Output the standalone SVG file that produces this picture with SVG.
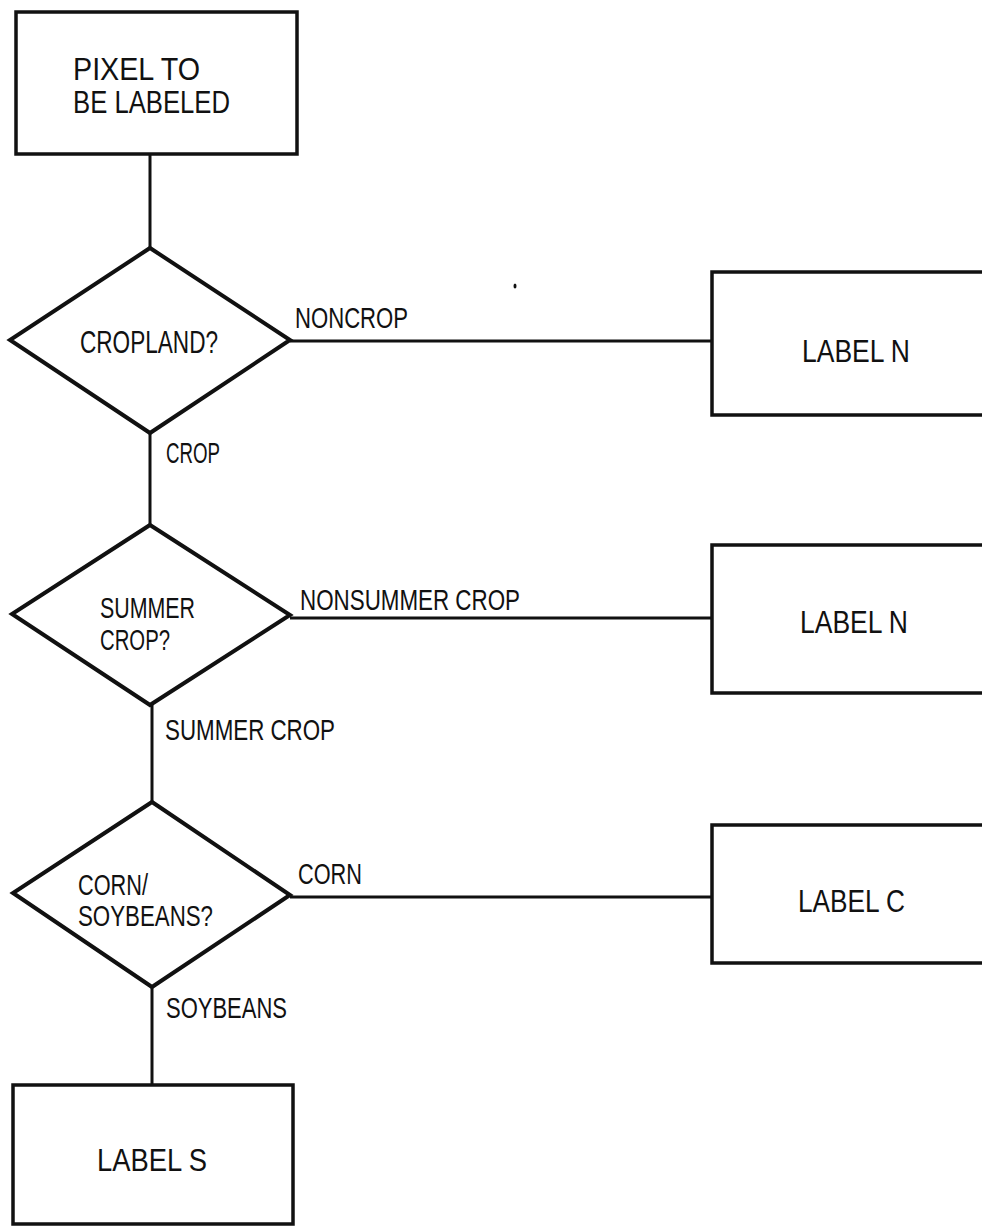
<svg xmlns="http://www.w3.org/2000/svg" width="982" height="1227" viewBox="0 0 982 1227">
<style>
.box{fill:#fff;stroke:#111;stroke-width:3.5}
.dia{fill:#fff;stroke:#111;stroke-width:4;stroke-linejoin:miter}
.con{fill:none;stroke:#111;stroke-width:3}
text{font-family:"Liberation Sans",Arial,sans-serif;fill:#111;font-size:29px}
.big{font-size:31px}
</style>
<rect width="982" height="1227" fill="#fff"/>
<g id="connectors">
<line class="con" x1="150" y1="154" x2="150" y2="248"/>
<line class="con" x1="150" y1="433" x2="150" y2="525"/>
<line class="con" x1="152" y1="705" x2="152" y2="802"/>
<line class="con" x1="152" y1="987" x2="152" y2="1085"/>
<line class="con" x1="290" y1="341" x2="712" y2="341"/>
<line class="con" x1="290" y1="618" x2="712" y2="618"/>
<line class="con" x1="290" y1="897" x2="712" y2="897"/>
<text x="295" y="328" textLength="113" lengthAdjust="spacingAndGlyphs">NONCROP</text>
<text x="166" y="463" textLength="54" lengthAdjust="spacingAndGlyphs">CROP</text>
<text x="300" y="610" textLength="220" lengthAdjust="spacingAndGlyphs">NONSUMMER CROP</text>
<text x="165" y="740" textLength="170" lengthAdjust="spacingAndGlyphs">SUMMER CROP</text>
<text x="298" y="884" textLength="64" lengthAdjust="spacingAndGlyphs">CORN</text>
<text x="166" y="1018" textLength="121" lengthAdjust="spacingAndGlyphs">SOYBEANS</text>
<ellipse cx="515" cy="286" rx="1.5" ry="2.5" fill="#111"/>
</g>
<g id="start">
<rect class="box" x="16" y="12" width="281" height="142"/>
<text class="big" x="73" y="80" textLength="127" lengthAdjust="spacingAndGlyphs">PIXEL TO</text>
<text class="big" x="73" y="113" textLength="157" lengthAdjust="spacingAndGlyphs">BE LABELED</text>
</g>
<g id="cropland">
<polygon class="dia" points="150,248 290,340 150,433 10,340"/>
<text class="big" x="80" y="353" textLength="138" lengthAdjust="spacingAndGlyphs">CROPLAND?</text>
</g>
<g id="summer">
<polygon class="dia" points="150,525 290,615 150,705 12,614"/>
<text x="100" y="618" textLength="95" lengthAdjust="spacingAndGlyphs">SUMMER</text>
<text x="100" y="650" textLength="70" lengthAdjust="spacingAndGlyphs">CROP?</text>
</g>
<g id="cornsoy">
<polygon class="dia" points="152,802 290,895 152,987 13,893"/>
<text x="78" y="895" textLength="70" lengthAdjust="spacingAndGlyphs">CORN/</text>
<text x="78" y="926" textLength="135" lengthAdjust="spacingAndGlyphs">SOYBEANS?</text>
</g>
<g id="labelN1">
<rect class="box" x="712" y="272" width="280" height="143"/>
<text class="big" x="802" y="362" textLength="108" lengthAdjust="spacingAndGlyphs">LABEL N</text>
</g>
<g id="labelN2">
<rect class="box" x="712" y="545" width="280" height="148"/>
<text class="big" x="800" y="633" textLength="108" lengthAdjust="spacingAndGlyphs">LABEL N</text>
</g>
<g id="labelC">
<rect class="box" x="712" y="825" width="280" height="138"/>
<text class="big" x="798" y="912" textLength="107" lengthAdjust="spacingAndGlyphs">LABEL C</text>
</g>
<g id="labelS">
<rect class="box" x="13" y="1085" width="280" height="139"/>
<text class="big" x="97" y="1171" textLength="110" lengthAdjust="spacingAndGlyphs">LABEL S</text>
</g>
</svg>
